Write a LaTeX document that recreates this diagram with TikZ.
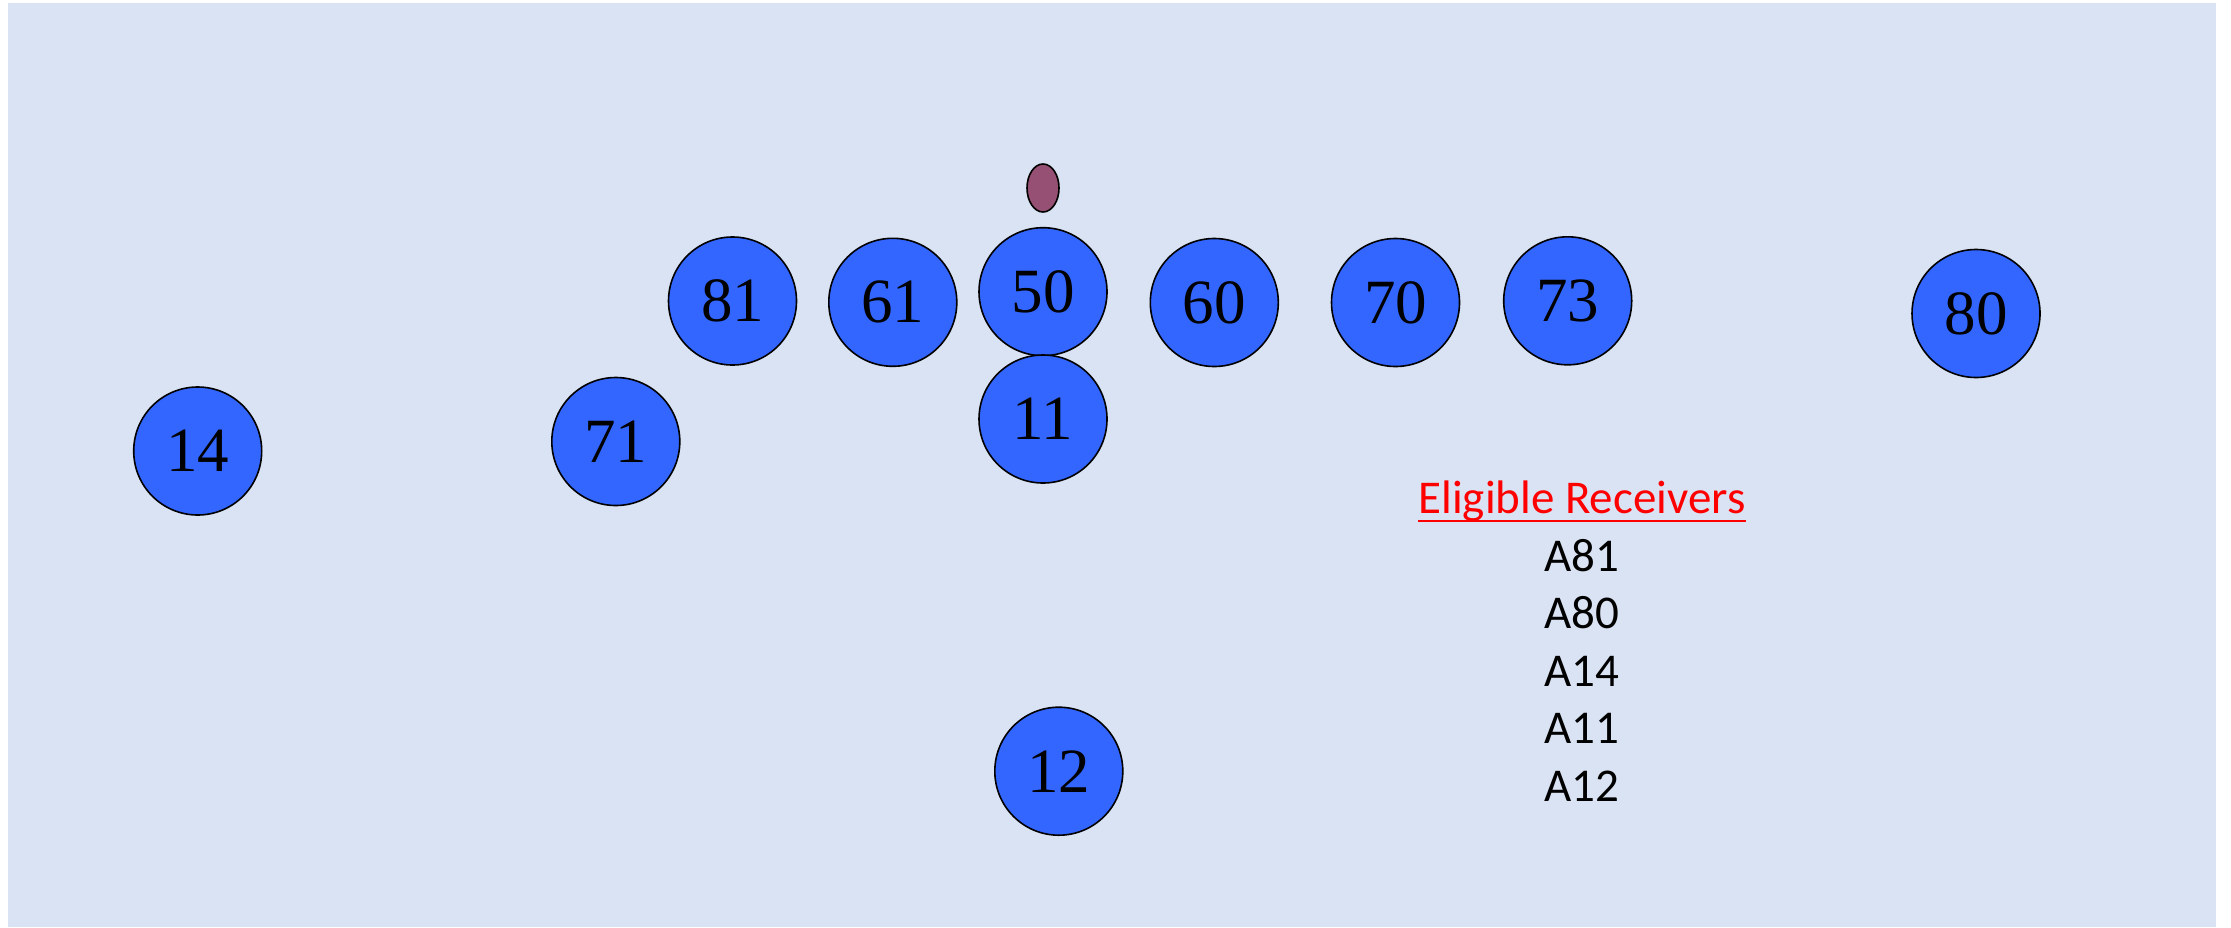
\documentclass[tikz,border=0pt]{standalone}
\usepackage{fontspec}
\usetikzlibrary{shapes.geometric}
\setmainfont{Liberation Serif}
\newfontfamily\calfont{Carlito}
\definecolor{bgblue}{HTML}{DAE3F3}
\definecolor{playerblue}{HTML}{3366FF}
\definecolor{ballplum}{HTML}{965073}
\definecolor{txtred}{HTML}{FF0000}
\tikzset{
  player/.style={circle, draw=black, line width=1.6bp, fill=playerblue, minimum size=128bp, inner sep=0pt,
    font=\fontsize{63bp}{63bp}\selectfont, text=black},
  listtext/.style={anchor=base, inner sep=0pt, font=\calfont\fontsize{47bp}{47bp}\selectfont, text=black},
}
\begin{document}
\begin{tikzpicture}[x=1bp,y=-1bp]
\useasboundingbox (0,0) rectangle (2231,927);
\fill[bgblue] (8,3) rectangle (2216,927);
% ball
\node[ellipse, draw=black, line width=1.6bp, fill=ballplum, minimum width=32bp, minimum height=48bp, inner sep=0pt] (ball) at (1043,188) {};
% players
\node[player] (p81) at (732.5,301) {81};
\node[player] (p61) at (892.8,302.3) {61};
\node[player] (p50) at (1043,291.7) {50};
\node[player] (p60) at (1214.3,302.5) {60};
\node[player] (p70) at (1395.5,302.5) {70};
\node[player] (p73) at (1567.7,300.8) {73};
\node[player] (p80) at (1976,313.5) {80};
\node[player] (p11) at (1043,419) {11};
\node[player] (p14) at (197.7,451) {14};
\node[player] (p71) at (615.8,441.5) {71};
\node[player] (p12) at (1058.8,771.2) {12};
% eligible receivers list
\node[listtext, text=txtred] (title) at (1582,513) {Eligible Receivers};
\draw[txtred, line width=2.5bp] ([yshift=-8bp]title.base west) -- ([yshift=-8bp]title.base east);
\node[listtext] (r1) at (1582,571.7) {A81};
\node[listtext] (r2) at (1582,628) {A80};
\node[listtext] (r3) at (1582,686.7) {A14};
\node[listtext] (r4) at (1582,743) {A11};
\node[listtext] (r5) at (1582,801.7) {A12};
\end{tikzpicture}
\end{document}
